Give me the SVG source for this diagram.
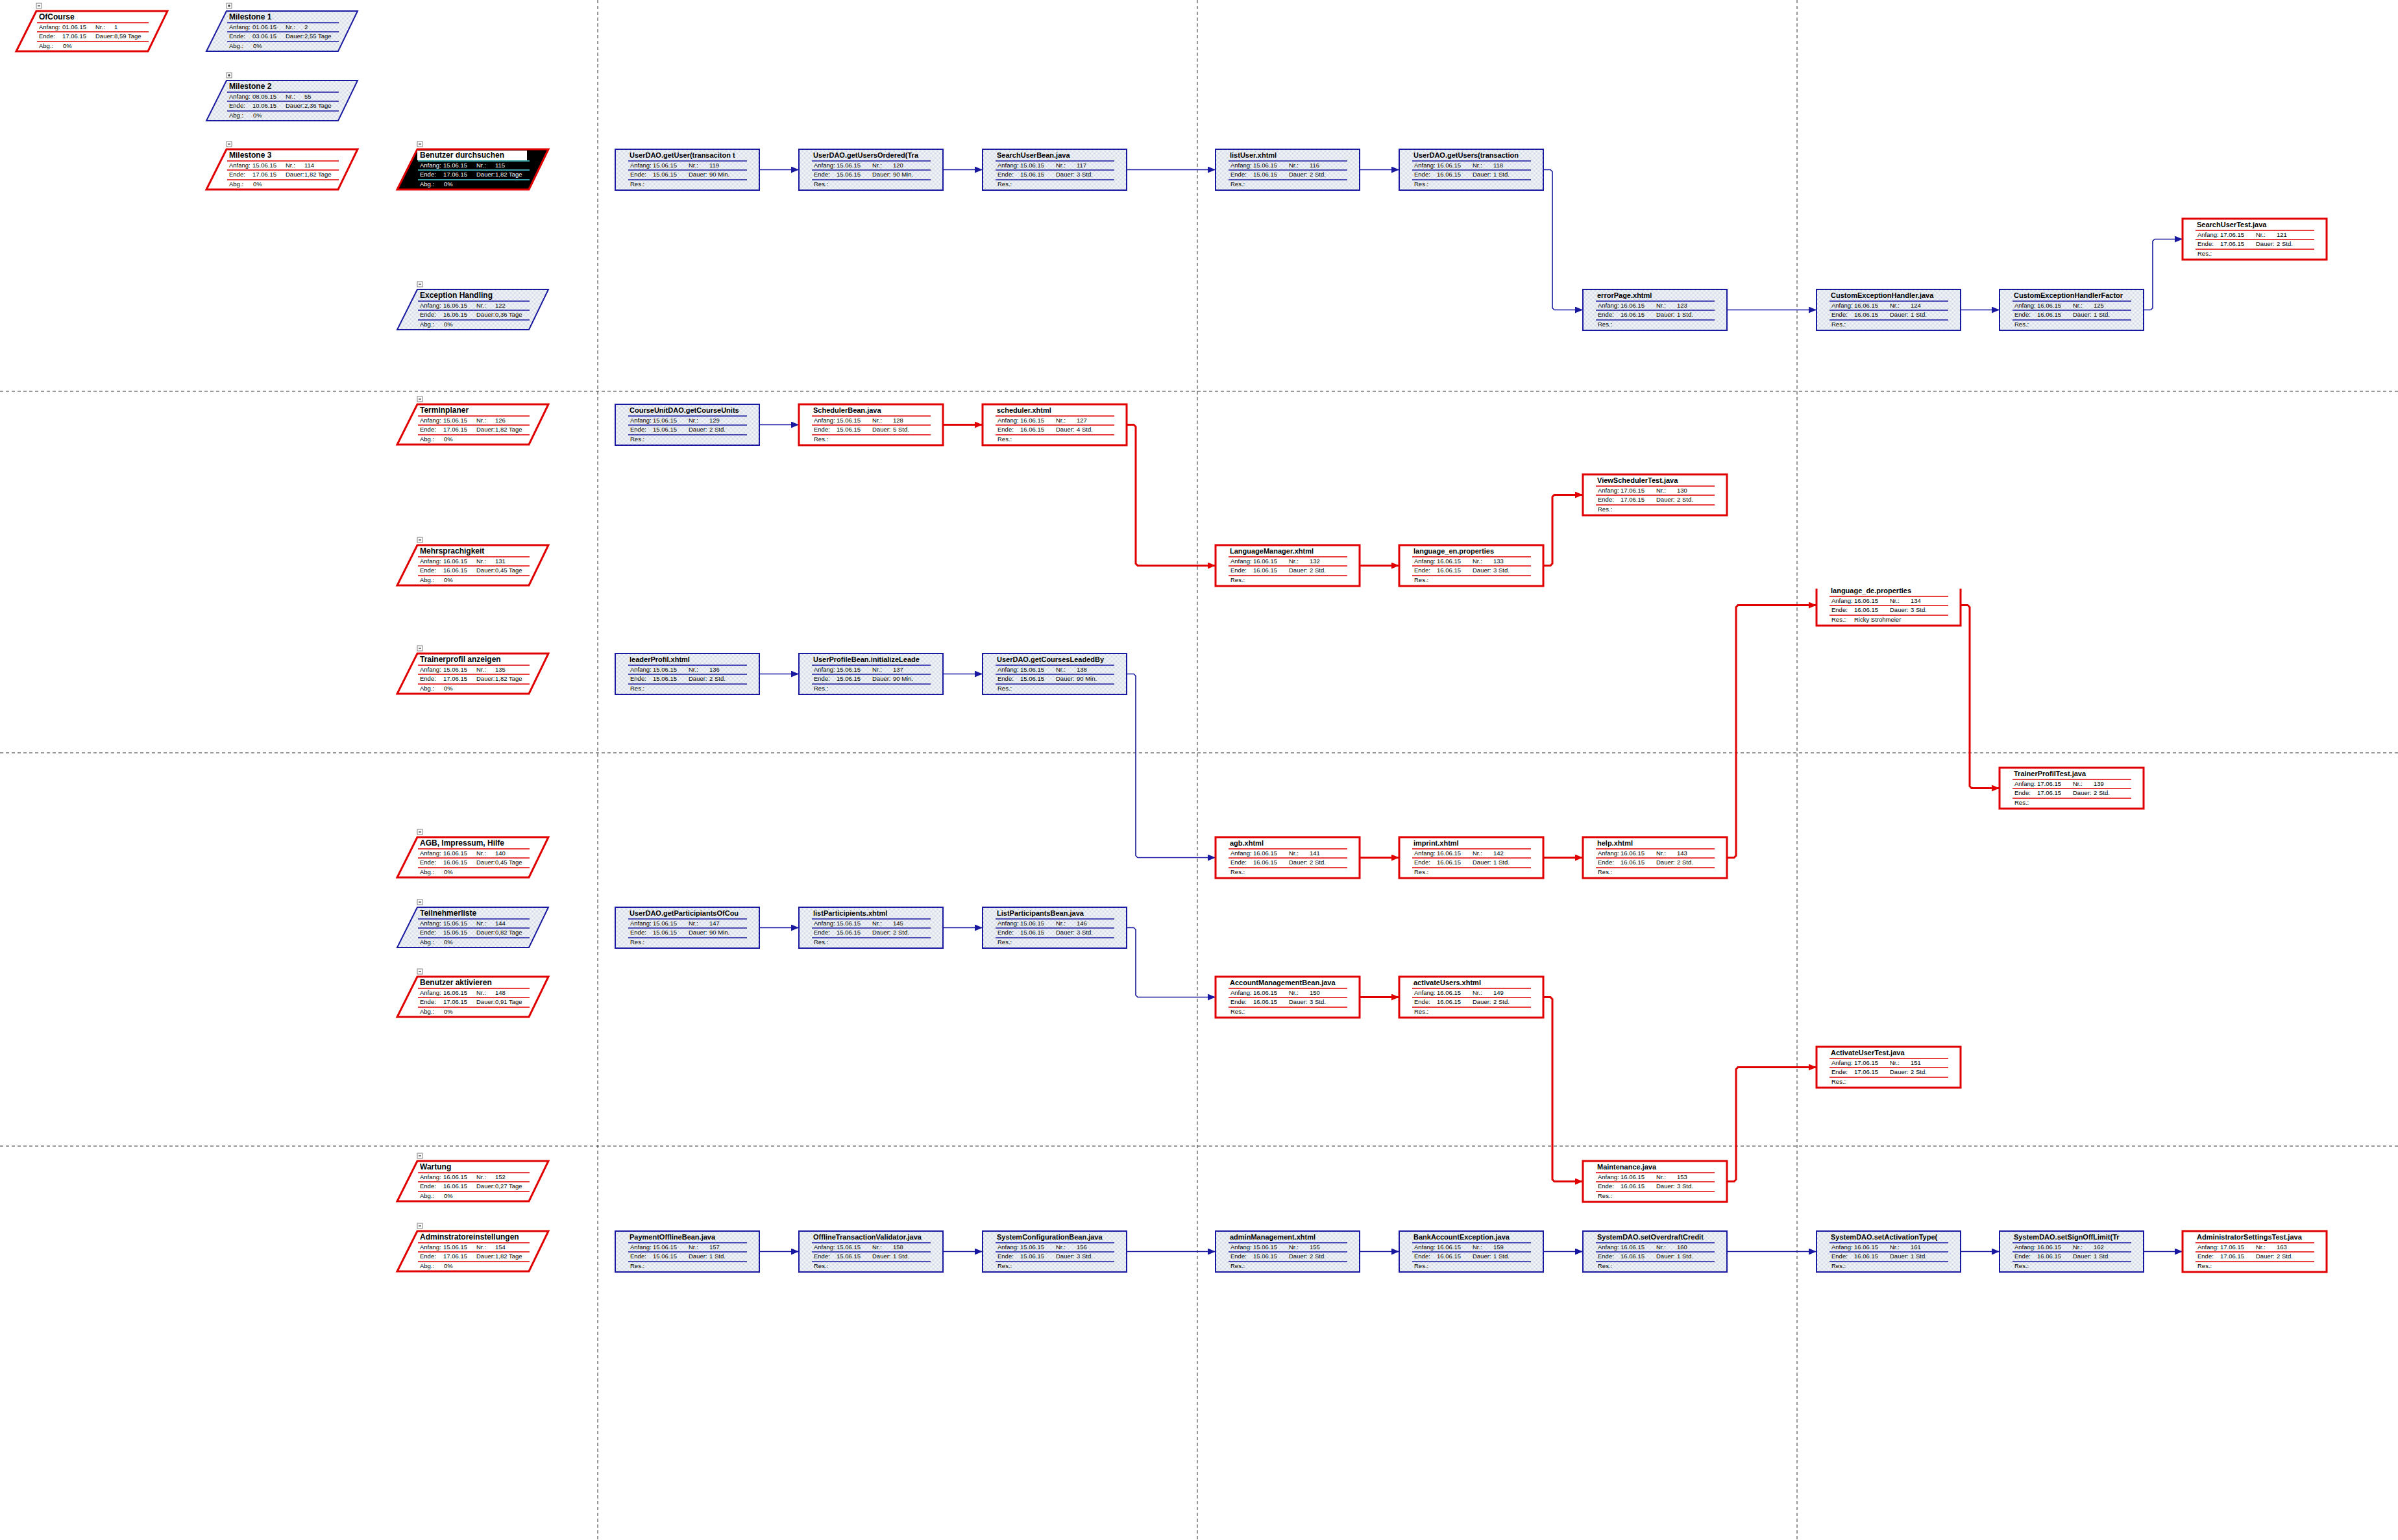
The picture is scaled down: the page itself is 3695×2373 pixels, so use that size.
<svg xmlns="http://www.w3.org/2000/svg" width="3695" height="2373" viewBox="0 0 3695 2373">
<style>
.tt{font:bold 11px "Liberation Sans",Arial,sans-serif;fill:#000}
.st{font:bold 12px "Liberation Sans",Arial,sans-serif;fill:#000}
.b{font:9.5px "Liberation Sans",Arial,sans-serif;fill:#000}
.bn{fill:url(#dt);stroke:#1818A0;stroke-width:2}
.rn{fill:#fff;stroke:#E00000;stroke-width:3}
.bl{stroke:#1818A0;stroke-width:1.5;fill:none}
.rl{stroke:#E00000;stroke-width:1.5;fill:none}
.cl{stroke:#48D8E0;stroke-width:1.5;fill:none}
.w{fill:#fff}
.ex{fill:#fff;stroke:#808080;stroke-width:1}
.exm{stroke:#000;stroke-width:1;fill:none}
.cb{fill:none;stroke:#1818A0;stroke-width:1.6;marker-end:url(#ab)}
.cr{fill:none;stroke:#E00000;stroke-width:3;marker-end:url(#ar)}
.dl{stroke:#333;stroke-width:1;stroke-dasharray:5 4;fill:none}
</style>
<defs>
<pattern id="dt" width="2" height="2" patternUnits="userSpaceOnUse"><rect width="2" height="2" fill="#FCFDFE"/><rect width="1" height="1" fill="#D2D9E6"/><rect x="1" y="1" width="1" height="1" fill="#D2D9E6"/></pattern>
<clipPath id="tc"><rect x="0" y="0" width="203" height="20"/></clipPath>
<marker id="ab" markerUnits="userSpaceOnUse" markerWidth="12" markerHeight="10" refX="12" refY="5" orient="auto"><path d="M0 0L12 5L0 10z" fill="#1818A0"/></marker>
<marker id="ar" markerUnits="userSpaceOnUse" markerWidth="12" markerHeight="10" refX="12" refY="5" orient="auto"><path d="M0 0L12 5L0 10z" fill="#E00000"/></marker>
</defs>
<rect width="3695" height="2373" fill="#fff"/>
<g id="grid">
<path class="dl" d="M921 0V2373M1845 0V2373M2769 0V2373M0 603H3695M0 1160H3695M0 1766H3695"/>
</g>
<g id="connectors">
<path class="cb" d="M1170 261.5H1231"/>
<path class="cb" d="M1453 261.5H1514"/>
<path class="cb" d="M1736 261.5H1873"/>
<path class="cb" d="M2095 261.5H2156"/>
<path class="cb" d="M2378 261.5H2389L2392 264.5V474.5L2395 477.5H2439"/>
<path class="cb" d="M2661 477.5H2799"/>
<path class="cb" d="M3021 477.5H3081"/>
<path class="cb" d="M3303 477.5H3314L3317 474.5V371.5L3320 368.5H3363"/>
<path class="cb" d="M1170 654.5H1231"/>
<path class="cr" d="M1453 654.5H1514"/>
<path class="cr" d="M1736 654.5H1747L1750 657.5V868.5L1753 871.5H1873"/>
<path class="cr" d="M2095 871.5H2156"/>
<path class="cr" d="M2378 871.5H2389L2392 868.5V765.5L2395 762.5H2439"/>
<path class="cr" d="M2661 1321.5H2672L2675 1318.5V935.5L2678 932.5H2799"/>
<path class="cr" d="M3021 932.5H3032L3035 935.5V1211.5L3038 1214.5H3081"/>
<path class="cb" d="M1170 1038.5H1231"/>
<path class="cb" d="M1453 1038.5H1514"/>
<path class="cb" d="M1736 1038.5H1747L1750 1041.5V1318.5L1753 1321.5H1873"/>
<path class="cr" d="M2095 1321.5H2156"/>
<path class="cr" d="M2378 1321.5H2439"/>
<path class="cb" d="M1170 1429.5H1231"/>
<path class="cb" d="M1453 1429.5H1514"/>
<path class="cb" d="M1736 1429.5H1747L1750 1432.5V1533.5L1753 1536.5H1873"/>
<path class="cr" d="M2095 1536.5H2156"/>
<path class="cr" d="M2378 1536.5H2389L2392 1539.5V1817.5L2395 1820.5H2439"/>
<path class="cr" d="M2661 1820.5H2672L2675 1817.5V1647.5L2678 1644.5H2799"/>
<path class="cb" d="M1170 1928.5H1231"/>
<path class="cb" d="M1453 1928.5H1514"/>
<path class="cb" d="M1736 1928.5H1873"/>
<path class="cb" d="M2095 1928.5H2156"/>
<path class="cb" d="M2378 1928.5H2439"/>
<path class="cb" d="M2661 1928.5H2799"/>
<path class="cb" d="M3021 1928.5H3081"/>
<path class="cb" d="M3303 1928.5H3363"/>
</g>
<g id="summaries">
<g id="s1" transform="translate(25,17)"><rect class="ex" x="31" y="-12" width="8" height="8"/><path class="exm" d="M33 -8H37"/><polygon class="rn" points="31,0 233,0 203,62 0,62"/><text class="st" x="35" y="13">OfCourse</text><path class="rl" d="M32 18H204M32 32H204M32 47H204"/><text class="b" y="28"><tspan x="35">Anfang:</tspan><tspan x="71">01.06.15</tspan><tspan x="122">Nr.:</tspan><tspan x="151">1</tspan></text><text class="b" y="42"><tspan x="35">Ende:</tspan><tspan x="71">17.06.15</tspan><tspan x="122">Dauer:</tspan><tspan x="151">8,59 Tage</tspan></text><text class="b" y="57"><tspan x="35">Abg.:</tspan><tspan x="72">0%</tspan></text></g>
<g id="s2" transform="translate(318,17)"><rect class="ex" x="31" y="-12" width="8" height="8"/><path class="exm" d="M33 -8H37M35 -10V-6"/><polygon class="bn" points="31,0 233,0 203,62 0,62"/><text class="st" x="35" y="13">Milestone 1</text><path class="bl" d="M32 18H204M32 32H204M32 47H204"/><text class="b" y="28"><tspan x="35">Anfang:</tspan><tspan x="71">01.06.15</tspan><tspan x="122">Nr.:</tspan><tspan x="151">2</tspan></text><text class="b" y="42"><tspan x="35">Ende:</tspan><tspan x="71">03.06.15</tspan><tspan x="122">Dauer:</tspan><tspan x="151">2,55 Tage</tspan></text><text class="b" y="57"><tspan x="35">Abg.:</tspan><tspan x="72">0%</tspan></text></g>
<g id="s55" transform="translate(318,124)"><rect class="ex" x="31" y="-12" width="8" height="8"/><path class="exm" d="M33 -8H37M35 -10V-6"/><polygon class="bn" points="31,0 233,0 203,62 0,62"/><text class="st" x="35" y="13">Milestone 2</text><path class="bl" d="M32 18H204M32 32H204M32 47H204"/><text class="b" y="28"><tspan x="35">Anfang:</tspan><tspan x="71">08.06.15</tspan><tspan x="122">Nr.:</tspan><tspan x="151">55</tspan></text><text class="b" y="42"><tspan x="35">Ende:</tspan><tspan x="71">10.06.15</tspan><tspan x="122">Dauer:</tspan><tspan x="151">2,36 Tage</tspan></text><text class="b" y="57"><tspan x="35">Abg.:</tspan><tspan x="72">0%</tspan></text></g>
<g id="s114" transform="translate(318,230)"><rect class="ex" x="31" y="-12" width="8" height="8"/><path class="exm" d="M33 -8H37"/><polygon class="rn" points="31,0 233,0 203,62 0,62"/><text class="st" x="35" y="13">Milestone 3</text><path class="rl" d="M32 18H204M32 32H204M32 47H204"/><text class="b" y="28"><tspan x="35">Anfang:</tspan><tspan x="71">15.06.15</tspan><tspan x="122">Nr.:</tspan><tspan x="151">114</tspan></text><text class="b" y="42"><tspan x="35">Ende:</tspan><tspan x="71">17.06.15</tspan><tspan x="122">Dauer:</tspan><tspan x="151">1,82 Tage</tspan></text><text class="b" y="57"><tspan x="35">Abg.:</tspan><tspan x="72">0%</tspan></text></g>
<g id="s115" transform="translate(612,230)"><rect class="ex" x="31" y="-12" width="8" height="8"/><path class="exm" d="M33 -8H37"/><polygon points="31,0 233,0 203,62 0,62" fill="#000" stroke="#E00000" stroke-width="3"/><rect x="31" y="2" width="169" height="15" fill="#fff"/><text class="st" x="35" y="13">Benutzer durchsuchen</text><path class="cl" d="M32 18H204M32 32H204M32 47H204"/><text class="b w" y="28"><tspan x="35">Anfang:</tspan><tspan x="71">15.06.15</tspan><tspan x="122">Nr.:</tspan><tspan x="151">115</tspan></text><text class="b w" y="42"><tspan x="35">Ende:</tspan><tspan x="71">17.06.15</tspan><tspan x="122">Dauer:</tspan><tspan x="151">1,82 Tage</tspan></text><text class="b w" y="57"><tspan x="35">Abg.:</tspan><tspan x="72">0%</tspan></text></g>
<g id="s122" transform="translate(612,446)"><rect class="ex" x="31" y="-12" width="8" height="8"/><path class="exm" d="M33 -8H37"/><polygon class="bn" points="31,0 233,0 203,62 0,62"/><text class="st" x="35" y="13">Exception Handling</text><path class="bl" d="M32 18H204M32 32H204M32 47H204"/><text class="b" y="28"><tspan x="35">Anfang:</tspan><tspan x="71">16.06.15</tspan><tspan x="122">Nr.:</tspan><tspan x="151">122</tspan></text><text class="b" y="42"><tspan x="35">Ende:</tspan><tspan x="71">16.06.15</tspan><tspan x="122">Dauer:</tspan><tspan x="151">0,36 Tage</tspan></text><text class="b" y="57"><tspan x="35">Abg.:</tspan><tspan x="72">0%</tspan></text></g>
<g id="s126" transform="translate(612,623)"><rect class="ex" x="31" y="-12" width="8" height="8"/><path class="exm" d="M33 -8H37"/><polygon class="rn" points="31,0 233,0 203,62 0,62"/><text class="st" x="35" y="13">Terminplaner</text><path class="rl" d="M32 18H204M32 32H204M32 47H204"/><text class="b" y="28"><tspan x="35">Anfang:</tspan><tspan x="71">15.06.15</tspan><tspan x="122">Nr.:</tspan><tspan x="151">126</tspan></text><text class="b" y="42"><tspan x="35">Ende:</tspan><tspan x="71">17.06.15</tspan><tspan x="122">Dauer:</tspan><tspan x="151">1,82 Tage</tspan></text><text class="b" y="57"><tspan x="35">Abg.:</tspan><tspan x="72">0%</tspan></text></g>
<g id="s131" transform="translate(612,840)"><rect class="ex" x="31" y="-12" width="8" height="8"/><path class="exm" d="M33 -8H37"/><polygon class="rn" points="31,0 233,0 203,62 0,62"/><text class="st" x="35" y="13">Mehrsprachigkeit</text><path class="rl" d="M32 18H204M32 32H204M32 47H204"/><text class="b" y="28"><tspan x="35">Anfang:</tspan><tspan x="71">16.06.15</tspan><tspan x="122">Nr.:</tspan><tspan x="151">131</tspan></text><text class="b" y="42"><tspan x="35">Ende:</tspan><tspan x="71">16.06.15</tspan><tspan x="122">Dauer:</tspan><tspan x="151">0,45 Tage</tspan></text><text class="b" y="57"><tspan x="35">Abg.:</tspan><tspan x="72">0%</tspan></text></g>
<g id="s135" transform="translate(612,1007)"><rect class="ex" x="31" y="-12" width="8" height="8"/><path class="exm" d="M33 -8H37"/><polygon class="rn" points="31,0 233,0 203,62 0,62"/><text class="st" x="35" y="13">Trainerprofil anzeigen</text><path class="rl" d="M32 18H204M32 32H204M32 47H204"/><text class="b" y="28"><tspan x="35">Anfang:</tspan><tspan x="71">15.06.15</tspan><tspan x="122">Nr.:</tspan><tspan x="151">135</tspan></text><text class="b" y="42"><tspan x="35">Ende:</tspan><tspan x="71">17.06.15</tspan><tspan x="122">Dauer:</tspan><tspan x="151">1,82 Tage</tspan></text><text class="b" y="57"><tspan x="35">Abg.:</tspan><tspan x="72">0%</tspan></text></g>
<g id="s140" transform="translate(612,1290)"><rect class="ex" x="31" y="-12" width="8" height="8"/><path class="exm" d="M33 -8H37"/><polygon class="rn" points="31,0 233,0 203,62 0,62"/><text class="st" x="35" y="13">AGB, Impressum, Hilfe</text><path class="rl" d="M32 18H204M32 32H204M32 47H204"/><text class="b" y="28"><tspan x="35">Anfang:</tspan><tspan x="71">16.06.15</tspan><tspan x="122">Nr.:</tspan><tspan x="151">140</tspan></text><text class="b" y="42"><tspan x="35">Ende:</tspan><tspan x="71">16.06.15</tspan><tspan x="122">Dauer:</tspan><tspan x="151">0,45 Tage</tspan></text><text class="b" y="57"><tspan x="35">Abg.:</tspan><tspan x="72">0%</tspan></text></g>
<g id="s144" transform="translate(612,1398)"><rect class="ex" x="31" y="-12" width="8" height="8"/><path class="exm" d="M33 -8H37"/><polygon class="bn" points="31,0 233,0 203,62 0,62"/><text class="st" x="35" y="13">Teilnehmerliste</text><path class="bl" d="M32 18H204M32 32H204M32 47H204"/><text class="b" y="28"><tspan x="35">Anfang:</tspan><tspan x="71">15.06.15</tspan><tspan x="122">Nr.:</tspan><tspan x="151">144</tspan></text><text class="b" y="42"><tspan x="35">Ende:</tspan><tspan x="71">15.06.15</tspan><tspan x="122">Dauer:</tspan><tspan x="151">0,82 Tage</tspan></text><text class="b" y="57"><tspan x="35">Abg.:</tspan><tspan x="72">0%</tspan></text></g>
<g id="s148" transform="translate(612,1505)"><rect class="ex" x="31" y="-12" width="8" height="8"/><path class="exm" d="M33 -8H37"/><polygon class="rn" points="31,0 233,0 203,62 0,62"/><text class="st" x="35" y="13">Benutzer aktivieren</text><path class="rl" d="M32 18H204M32 32H204M32 47H204"/><text class="b" y="28"><tspan x="35">Anfang:</tspan><tspan x="71">16.06.15</tspan><tspan x="122">Nr.:</tspan><tspan x="151">148</tspan></text><text class="b" y="42"><tspan x="35">Ende:</tspan><tspan x="71">17.06.15</tspan><tspan x="122">Dauer:</tspan><tspan x="151">0,91 Tage</tspan></text><text class="b" y="57"><tspan x="35">Abg.:</tspan><tspan x="72">0%</tspan></text></g>
<g id="s152" transform="translate(612,1789)"><rect class="ex" x="31" y="-12" width="8" height="8"/><path class="exm" d="M33 -8H37"/><polygon class="rn" points="31,0 233,0 203,62 0,62"/><text class="st" x="35" y="13">Wartung</text><path class="rl" d="M32 18H204M32 32H204M32 47H204"/><text class="b" y="28"><tspan x="35">Anfang:</tspan><tspan x="71">16.06.15</tspan><tspan x="122">Nr.:</tspan><tspan x="151">152</tspan></text><text class="b" y="42"><tspan x="35">Ende:</tspan><tspan x="71">16.06.15</tspan><tspan x="122">Dauer:</tspan><tspan x="151">0,27 Tage</tspan></text><text class="b" y="57"><tspan x="35">Abg.:</tspan><tspan x="72">0%</tspan></text></g>
<g id="s154" transform="translate(612,1897)"><rect class="ex" x="31" y="-12" width="8" height="8"/><path class="exm" d="M33 -8H37"/><polygon class="rn" points="31,0 233,0 203,62 0,62"/><text class="st" x="35" y="13">Adminstratoreinstellungen</text><path class="rl" d="M32 18H204M32 32H204M32 47H204"/><text class="b" y="28"><tspan x="35">Anfang:</tspan><tspan x="71">15.06.15</tspan><tspan x="122">Nr.:</tspan><tspan x="151">154</tspan></text><text class="b" y="42"><tspan x="35">Ende:</tspan><tspan x="71">17.06.15</tspan><tspan x="122">Dauer:</tspan><tspan x="151">1,82 Tage</tspan></text><text class="b" y="57"><tspan x="35">Abg.:</tspan><tspan x="72">0%</tspan></text></g>
</g>
<g id="tasks">
<g id="t119" transform="translate(948,230)"><rect class="bn" width="222" height="63"/><text class="tt" x="22" y="13" clip-path="url(#tc)">UserDAO.getUser(transaciton t</text><path class="bl" d="M20 18H203M20 32H203M20 47H203"/><text class="b" y="28"><tspan x="23">Anfang:</tspan><tspan x="58">15.06.15</tspan><tspan x="113">Nr.:</tspan><tspan x="145">119</tspan></text><text class="b" y="42"><tspan x="23">Ende:</tspan><tspan x="58">15.06.15</tspan><tspan x="113">Dauer:</tspan><tspan x="145">90 Min.</tspan></text><text class="b" x="23" y="57">Res.:</text></g>
<g id="t120" transform="translate(1231,230)"><rect class="bn" width="222" height="63"/><text class="tt" x="22" y="13" clip-path="url(#tc)">UserDAO.getUsersOrdered(Tra</text><path class="bl" d="M20 18H203M20 32H203M20 47H203"/><text class="b" y="28"><tspan x="23">Anfang:</tspan><tspan x="58">15.06.15</tspan><tspan x="113">Nr.:</tspan><tspan x="145">120</tspan></text><text class="b" y="42"><tspan x="23">Ende:</tspan><tspan x="58">15.06.15</tspan><tspan x="113">Dauer:</tspan><tspan x="145">90 Min.</tspan></text><text class="b" x="23" y="57">Res.:</text></g>
<g id="t117" transform="translate(1514,230)"><rect class="bn" width="222" height="63"/><text class="tt" x="22" y="13" clip-path="url(#tc)">SearchUserBean.java</text><path class="bl" d="M20 18H203M20 32H203M20 47H203"/><text class="b" y="28"><tspan x="23">Anfang:</tspan><tspan x="58">15.06.15</tspan><tspan x="113">Nr.:</tspan><tspan x="145">117</tspan></text><text class="b" y="42"><tspan x="23">Ende:</tspan><tspan x="58">15.06.15</tspan><tspan x="113">Dauer:</tspan><tspan x="145">3 Std.</tspan></text><text class="b" x="23" y="57">Res.:</text></g>
<g id="t116" transform="translate(1873,230)"><rect class="bn" width="222" height="63"/><text class="tt" x="22" y="13" clip-path="url(#tc)">listUser.xhtml</text><path class="bl" d="M20 18H203M20 32H203M20 47H203"/><text class="b" y="28"><tspan x="23">Anfang:</tspan><tspan x="58">15.06.15</tspan><tspan x="113">Nr.:</tspan><tspan x="145">116</tspan></text><text class="b" y="42"><tspan x="23">Ende:</tspan><tspan x="58">15.06.15</tspan><tspan x="113">Dauer:</tspan><tspan x="145">2 Std.</tspan></text><text class="b" x="23" y="57">Res.:</text></g>
<g id="t118" transform="translate(2156,230)"><rect class="bn" width="222" height="63"/><text class="tt" x="22" y="13" clip-path="url(#tc)">UserDAO.getUsers(transaction</text><path class="bl" d="M20 18H203M20 32H203M20 47H203"/><text class="b" y="28"><tspan x="23">Anfang:</tspan><tspan x="58">16.06.15</tspan><tspan x="113">Nr.:</tspan><tspan x="145">118</tspan></text><text class="b" y="42"><tspan x="23">Ende:</tspan><tspan x="58">16.06.15</tspan><tspan x="113">Dauer:</tspan><tspan x="145">1 Std.</tspan></text><text class="b" x="23" y="57">Res.:</text></g>
<g id="t123" transform="translate(2439,446)"><rect class="bn" width="222" height="63"/><text class="tt" x="22" y="13" clip-path="url(#tc)">errorPage.xhtml</text><path class="bl" d="M20 18H203M20 32H203M20 47H203"/><text class="b" y="28"><tspan x="23">Anfang:</tspan><tspan x="58">16.06.15</tspan><tspan x="113">Nr.:</tspan><tspan x="145">123</tspan></text><text class="b" y="42"><tspan x="23">Ende:</tspan><tspan x="58">16.06.15</tspan><tspan x="113">Dauer:</tspan><tspan x="145">1 Std.</tspan></text><text class="b" x="23" y="57">Res.:</text></g>
<g id="t124" transform="translate(2799,446)"><rect class="bn" width="222" height="63"/><text class="tt" x="22" y="13" clip-path="url(#tc)">CustomExceptionHandler.java</text><path class="bl" d="M20 18H203M20 32H203M20 47H203"/><text class="b" y="28"><tspan x="23">Anfang:</tspan><tspan x="58">16.06.15</tspan><tspan x="113">Nr.:</tspan><tspan x="145">124</tspan></text><text class="b" y="42"><tspan x="23">Ende:</tspan><tspan x="58">16.06.15</tspan><tspan x="113">Dauer:</tspan><tspan x="145">1 Std.</tspan></text><text class="b" x="23" y="57">Res.:</text></g>
<g id="t125" transform="translate(3081,446)"><rect class="bn" width="222" height="63"/><text class="tt" x="22" y="13" clip-path="url(#tc)">CustomExceptionHandlerFactor</text><path class="bl" d="M20 18H203M20 32H203M20 47H203"/><text class="b" y="28"><tspan x="23">Anfang:</tspan><tspan x="58">16.06.15</tspan><tspan x="113">Nr.:</tspan><tspan x="145">125</tspan></text><text class="b" y="42"><tspan x="23">Ende:</tspan><tspan x="58">16.06.15</tspan><tspan x="113">Dauer:</tspan><tspan x="145">1 Std.</tspan></text><text class="b" x="23" y="57">Res.:</text></g>
<g id="t121" transform="translate(3363,337)"><rect class="rn" width="222" height="63"/><text class="tt" x="22" y="13" clip-path="url(#tc)">SearchUserTest.java</text><path class="rl" d="M20 18H203M20 32H203M20 47H203"/><text class="b" y="28"><tspan x="23">Anfang:</tspan><tspan x="58">17.06.15</tspan><tspan x="113">Nr.:</tspan><tspan x="145">121</tspan></text><text class="b" y="42"><tspan x="23">Ende:</tspan><tspan x="58">17.06.15</tspan><tspan x="113">Dauer:</tspan><tspan x="145">2 Std.</tspan></text><text class="b" x="23" y="57">Res.:</text></g>
<g id="t129" transform="translate(948,623)"><rect class="bn" width="222" height="63"/><text class="tt" x="22" y="13" clip-path="url(#tc)">CourseUnitDAO.getCourseUnits</text><path class="bl" d="M20 18H203M20 32H203M20 47H203"/><text class="b" y="28"><tspan x="23">Anfang:</tspan><tspan x="58">15.06.15</tspan><tspan x="113">Nr.:</tspan><tspan x="145">129</tspan></text><text class="b" y="42"><tspan x="23">Ende:</tspan><tspan x="58">15.06.15</tspan><tspan x="113">Dauer:</tspan><tspan x="145">2 Std.</tspan></text><text class="b" x="23" y="57">Res.:</text></g>
<g id="t128" transform="translate(1231,623)"><rect class="rn" width="222" height="63"/><text class="tt" x="22" y="13" clip-path="url(#tc)">SchedulerBean.java</text><path class="rl" d="M20 18H203M20 32H203M20 47H203"/><text class="b" y="28"><tspan x="23">Anfang:</tspan><tspan x="58">15.06.15</tspan><tspan x="113">Nr.:</tspan><tspan x="145">128</tspan></text><text class="b" y="42"><tspan x="23">Ende:</tspan><tspan x="58">15.06.15</tspan><tspan x="113">Dauer:</tspan><tspan x="145">5 Std.</tspan></text><text class="b" x="23" y="57">Res.:</text></g>
<g id="t127" transform="translate(1514,623)"><rect class="rn" width="222" height="63"/><text class="tt" x="22" y="13" clip-path="url(#tc)">scheduler.xhtml</text><path class="rl" d="M20 18H203M20 32H203M20 47H203"/><text class="b" y="28"><tspan x="23">Anfang:</tspan><tspan x="58">16.06.15</tspan><tspan x="113">Nr.:</tspan><tspan x="145">127</tspan></text><text class="b" y="42"><tspan x="23">Ende:</tspan><tspan x="58">16.06.15</tspan><tspan x="113">Dauer:</tspan><tspan x="145">4 Std.</tspan></text><text class="b" x="23" y="57">Res.:</text></g>
<g id="t130" transform="translate(2439,731)"><rect class="rn" width="222" height="63"/><text class="tt" x="22" y="13" clip-path="url(#tc)">ViewSchedulerTest.java</text><path class="rl" d="M20 18H203M20 32H203M20 47H203"/><text class="b" y="28"><tspan x="23">Anfang:</tspan><tspan x="58">17.06.15</tspan><tspan x="113">Nr.:</tspan><tspan x="145">130</tspan></text><text class="b" y="42"><tspan x="23">Ende:</tspan><tspan x="58">17.06.15</tspan><tspan x="113">Dauer:</tspan><tspan x="145">2 Std.</tspan></text><text class="b" x="23" y="57">Res.:</text></g>
<g id="t132" transform="translate(1873,840)"><rect class="rn" width="222" height="63"/><text class="tt" x="22" y="13" clip-path="url(#tc)">LanguageManager.xhtml</text><path class="rl" d="M20 18H203M20 32H203M20 47H203"/><text class="b" y="28"><tspan x="23">Anfang:</tspan><tspan x="58">16.06.15</tspan><tspan x="113">Nr.:</tspan><tspan x="145">132</tspan></text><text class="b" y="42"><tspan x="23">Ende:</tspan><tspan x="58">16.06.15</tspan><tspan x="113">Dauer:</tspan><tspan x="145">2 Std.</tspan></text><text class="b" x="23" y="57">Res.:</text></g>
<g id="t133" transform="translate(2156,840)"><rect class="rn" width="222" height="63"/><text class="tt" x="22" y="13" clip-path="url(#tc)">language_en.properties</text><path class="rl" d="M20 18H203M20 32H203M20 47H203"/><text class="b" y="28"><tspan x="23">Anfang:</tspan><tspan x="58">16.06.15</tspan><tspan x="113">Nr.:</tspan><tspan x="145">133</tspan></text><text class="b" y="42"><tspan x="23">Ende:</tspan><tspan x="58">16.06.15</tspan><tspan x="113">Dauer:</tspan><tspan x="145">3 Std.</tspan></text><text class="b" x="23" y="57">Res.:</text></g>
<g id="t134" transform="translate(2799,901)"><rect class="rn" width="222" height="63"/><rect x="-3" y="-3" width="228" height="9" fill="#fff"/><text class="tt" x="22" y="13" clip-path="url(#tc)">language_de.properties</text><path class="rl" d="M20 18H203M20 32H203M20 47H203"/><text class="b" y="28"><tspan x="23">Anfang:</tspan><tspan x="58">16.06.15</tspan><tspan x="113">Nr.:</tspan><tspan x="145">134</tspan></text><text class="b" y="42"><tspan x="23">Ende:</tspan><tspan x="58">16.06.15</tspan><tspan x="113">Dauer:</tspan><tspan x="145">3 Std.</tspan></text><text class="b" y="57"><tspan x="23">Res.:</tspan><tspan x="58">Ricky Strohmeier</tspan></text></g>
<g id="t136" transform="translate(948,1007)"><rect class="bn" width="222" height="63"/><text class="tt" x="22" y="13" clip-path="url(#tc)">leaderProfil.xhtml</text><path class="bl" d="M20 18H203M20 32H203M20 47H203"/><text class="b" y="28"><tspan x="23">Anfang:</tspan><tspan x="58">15.06.15</tspan><tspan x="113">Nr.:</tspan><tspan x="145">136</tspan></text><text class="b" y="42"><tspan x="23">Ende:</tspan><tspan x="58">15.06.15</tspan><tspan x="113">Dauer:</tspan><tspan x="145">2 Std.</tspan></text><text class="b" x="23" y="57">Res.:</text></g>
<g id="t137" transform="translate(1231,1007)"><rect class="bn" width="222" height="63"/><text class="tt" x="22" y="13" clip-path="url(#tc)">UserProfileBean.initializeLeade</text><path class="bl" d="M20 18H203M20 32H203M20 47H203"/><text class="b" y="28"><tspan x="23">Anfang:</tspan><tspan x="58">15.06.15</tspan><tspan x="113">Nr.:</tspan><tspan x="145">137</tspan></text><text class="b" y="42"><tspan x="23">Ende:</tspan><tspan x="58">15.06.15</tspan><tspan x="113">Dauer:</tspan><tspan x="145">90 Min.</tspan></text><text class="b" x="23" y="57">Res.:</text></g>
<g id="t138" transform="translate(1514,1007)"><rect class="bn" width="222" height="63"/><text class="tt" x="22" y="13" clip-path="url(#tc)">UserDAO.getCoursesLeadedBy</text><path class="bl" d="M20 18H203M20 32H203M20 47H203"/><text class="b" y="28"><tspan x="23">Anfang:</tspan><tspan x="58">15.06.15</tspan><tspan x="113">Nr.:</tspan><tspan x="145">138</tspan></text><text class="b" y="42"><tspan x="23">Ende:</tspan><tspan x="58">15.06.15</tspan><tspan x="113">Dauer:</tspan><tspan x="145">90 Min.</tspan></text><text class="b" x="23" y="57">Res.:</text></g>
<g id="t139" transform="translate(3081,1183)"><rect class="rn" width="222" height="63"/><text class="tt" x="22" y="13" clip-path="url(#tc)">TrainerProfilTest.java</text><path class="rl" d="M20 18H203M20 32H203M20 47H203"/><text class="b" y="28"><tspan x="23">Anfang:</tspan><tspan x="58">17.06.15</tspan><tspan x="113">Nr.:</tspan><tspan x="145">139</tspan></text><text class="b" y="42"><tspan x="23">Ende:</tspan><tspan x="58">17.06.15</tspan><tspan x="113">Dauer:</tspan><tspan x="145">2 Std.</tspan></text><text class="b" x="23" y="57">Res.:</text></g>
<g id="t141" transform="translate(1873,1290)"><rect class="rn" width="222" height="63"/><text class="tt" x="22" y="13" clip-path="url(#tc)">agb.xhtml</text><path class="rl" d="M20 18H203M20 32H203M20 47H203"/><text class="b" y="28"><tspan x="23">Anfang:</tspan><tspan x="58">16.06.15</tspan><tspan x="113">Nr.:</tspan><tspan x="145">141</tspan></text><text class="b" y="42"><tspan x="23">Ende:</tspan><tspan x="58">16.06.15</tspan><tspan x="113">Dauer:</tspan><tspan x="145">2 Std.</tspan></text><text class="b" x="23" y="57">Res.:</text></g>
<g id="t142" transform="translate(2156,1290)"><rect class="rn" width="222" height="63"/><text class="tt" x="22" y="13" clip-path="url(#tc)">imprint.xhtml</text><path class="rl" d="M20 18H203M20 32H203M20 47H203"/><text class="b" y="28"><tspan x="23">Anfang:</tspan><tspan x="58">16.06.15</tspan><tspan x="113">Nr.:</tspan><tspan x="145">142</tspan></text><text class="b" y="42"><tspan x="23">Ende:</tspan><tspan x="58">16.06.15</tspan><tspan x="113">Dauer:</tspan><tspan x="145">1 Std.</tspan></text><text class="b" x="23" y="57">Res.:</text></g>
<g id="t143" transform="translate(2439,1290)"><rect class="rn" width="222" height="63"/><text class="tt" x="22" y="13" clip-path="url(#tc)">help.xhtml</text><path class="rl" d="M20 18H203M20 32H203M20 47H203"/><text class="b" y="28"><tspan x="23">Anfang:</tspan><tspan x="58">16.06.15</tspan><tspan x="113">Nr.:</tspan><tspan x="145">143</tspan></text><text class="b" y="42"><tspan x="23">Ende:</tspan><tspan x="58">16.06.15</tspan><tspan x="113">Dauer:</tspan><tspan x="145">2 Std.</tspan></text><text class="b" x="23" y="57">Res.:</text></g>
<g id="t147" transform="translate(948,1398)"><rect class="bn" width="222" height="63"/><text class="tt" x="22" y="13" clip-path="url(#tc)">UserDAO.getParticipiantsOfCou</text><path class="bl" d="M20 18H203M20 32H203M20 47H203"/><text class="b" y="28"><tspan x="23">Anfang:</tspan><tspan x="58">15.06.15</tspan><tspan x="113">Nr.:</tspan><tspan x="145">147</tspan></text><text class="b" y="42"><tspan x="23">Ende:</tspan><tspan x="58">15.06.15</tspan><tspan x="113">Dauer:</tspan><tspan x="145">90 Min.</tspan></text><text class="b" x="23" y="57">Res.:</text></g>
<g id="t145" transform="translate(1231,1398)"><rect class="bn" width="222" height="63"/><text class="tt" x="22" y="13" clip-path="url(#tc)">listParticipients.xhtml</text><path class="bl" d="M20 18H203M20 32H203M20 47H203"/><text class="b" y="28"><tspan x="23">Anfang:</tspan><tspan x="58">15.06.15</tspan><tspan x="113">Nr.:</tspan><tspan x="145">145</tspan></text><text class="b" y="42"><tspan x="23">Ende:</tspan><tspan x="58">15.06.15</tspan><tspan x="113">Dauer:</tspan><tspan x="145">2 Std.</tspan></text><text class="b" x="23" y="57">Res.:</text></g>
<g id="t146" transform="translate(1514,1398)"><rect class="bn" width="222" height="63"/><text class="tt" x="22" y="13" clip-path="url(#tc)">ListParticipantsBean.java</text><path class="bl" d="M20 18H203M20 32H203M20 47H203"/><text class="b" y="28"><tspan x="23">Anfang:</tspan><tspan x="58">15.06.15</tspan><tspan x="113">Nr.:</tspan><tspan x="145">146</tspan></text><text class="b" y="42"><tspan x="23">Ende:</tspan><tspan x="58">15.06.15</tspan><tspan x="113">Dauer:</tspan><tspan x="145">3 Std.</tspan></text><text class="b" x="23" y="57">Res.:</text></g>
<g id="t150" transform="translate(1873,1505)"><rect class="rn" width="222" height="63"/><text class="tt" x="22" y="13" clip-path="url(#tc)">AccountManagementBean.java</text><path class="rl" d="M20 18H203M20 32H203M20 47H203"/><text class="b" y="28"><tspan x="23">Anfang:</tspan><tspan x="58">16.06.15</tspan><tspan x="113">Nr.:</tspan><tspan x="145">150</tspan></text><text class="b" y="42"><tspan x="23">Ende:</tspan><tspan x="58">16.06.15</tspan><tspan x="113">Dauer:</tspan><tspan x="145">3 Std.</tspan></text><text class="b" x="23" y="57">Res.:</text></g>
<g id="t149" transform="translate(2156,1505)"><rect class="rn" width="222" height="63"/><text class="tt" x="22" y="13" clip-path="url(#tc)">activateUsers.xhtml</text><path class="rl" d="M20 18H203M20 32H203M20 47H203"/><text class="b" y="28"><tspan x="23">Anfang:</tspan><tspan x="58">16.06.15</tspan><tspan x="113">Nr.:</tspan><tspan x="145">149</tspan></text><text class="b" y="42"><tspan x="23">Ende:</tspan><tspan x="58">16.06.15</tspan><tspan x="113">Dauer:</tspan><tspan x="145">2 Std.</tspan></text><text class="b" x="23" y="57">Res.:</text></g>
<g id="t151" transform="translate(2799,1613)"><rect class="rn" width="222" height="63"/><text class="tt" x="22" y="13" clip-path="url(#tc)">ActivateUserTest.java</text><path class="rl" d="M20 18H203M20 32H203M20 47H203"/><text class="b" y="28"><tspan x="23">Anfang:</tspan><tspan x="58">17.06.15</tspan><tspan x="113">Nr.:</tspan><tspan x="145">151</tspan></text><text class="b" y="42"><tspan x="23">Ende:</tspan><tspan x="58">17.06.15</tspan><tspan x="113">Dauer:</tspan><tspan x="145">2 Std.</tspan></text><text class="b" x="23" y="57">Res.:</text></g>
<g id="t153" transform="translate(2439,1789)"><rect class="rn" width="222" height="63"/><text class="tt" x="22" y="13" clip-path="url(#tc)">Maintenance.java</text><path class="rl" d="M20 18H203M20 32H203M20 47H203"/><text class="b" y="28"><tspan x="23">Anfang:</tspan><tspan x="58">16.06.15</tspan><tspan x="113">Nr.:</tspan><tspan x="145">153</tspan></text><text class="b" y="42"><tspan x="23">Ende:</tspan><tspan x="58">16.06.15</tspan><tspan x="113">Dauer:</tspan><tspan x="145">3 Std.</tspan></text><text class="b" x="23" y="57">Res.:</text></g>
<g id="t157" transform="translate(948,1897)"><rect class="bn" width="222" height="63"/><text class="tt" x="22" y="13" clip-path="url(#tc)">PaymentOfflineBean.java</text><path class="bl" d="M20 18H203M20 32H203M20 47H203"/><text class="b" y="28"><tspan x="23">Anfang:</tspan><tspan x="58">15.06.15</tspan><tspan x="113">Nr.:</tspan><tspan x="145">157</tspan></text><text class="b" y="42"><tspan x="23">Ende:</tspan><tspan x="58">15.06.15</tspan><tspan x="113">Dauer:</tspan><tspan x="145">1 Std.</tspan></text><text class="b" x="23" y="57">Res.:</text></g>
<g id="t158" transform="translate(1231,1897)"><rect class="bn" width="222" height="63"/><text class="tt" x="22" y="13" clip-path="url(#tc)">OfflineTransactionValidator.java</text><path class="bl" d="M20 18H203M20 32H203M20 47H203"/><text class="b" y="28"><tspan x="23">Anfang:</tspan><tspan x="58">15.06.15</tspan><tspan x="113">Nr.:</tspan><tspan x="145">158</tspan></text><text class="b" y="42"><tspan x="23">Ende:</tspan><tspan x="58">15.06.15</tspan><tspan x="113">Dauer:</tspan><tspan x="145">1 Std.</tspan></text><text class="b" x="23" y="57">Res.:</text></g>
<g id="t156" transform="translate(1514,1897)"><rect class="bn" width="222" height="63"/><text class="tt" x="22" y="13" clip-path="url(#tc)">SystemConfigurationBean.java</text><path class="bl" d="M20 18H203M20 32H203M20 47H203"/><text class="b" y="28"><tspan x="23">Anfang:</tspan><tspan x="58">15.06.15</tspan><tspan x="113">Nr.:</tspan><tspan x="145">156</tspan></text><text class="b" y="42"><tspan x="23">Ende:</tspan><tspan x="58">15.06.15</tspan><tspan x="113">Dauer:</tspan><tspan x="145">3 Std.</tspan></text><text class="b" x="23" y="57">Res.:</text></g>
<g id="t155" transform="translate(1873,1897)"><rect class="bn" width="222" height="63"/><text class="tt" x="22" y="13" clip-path="url(#tc)">adminManagement.xhtml</text><path class="bl" d="M20 18H203M20 32H203M20 47H203"/><text class="b" y="28"><tspan x="23">Anfang:</tspan><tspan x="58">15.06.15</tspan><tspan x="113">Nr.:</tspan><tspan x="145">155</tspan></text><text class="b" y="42"><tspan x="23">Ende:</tspan><tspan x="58">15.06.15</tspan><tspan x="113">Dauer:</tspan><tspan x="145">2 Std.</tspan></text><text class="b" x="23" y="57">Res.:</text></g>
<g id="t159" transform="translate(2156,1897)"><rect class="bn" width="222" height="63"/><text class="tt" x="22" y="13" clip-path="url(#tc)">BankAccountException.java</text><path class="bl" d="M20 18H203M20 32H203M20 47H203"/><text class="b" y="28"><tspan x="23">Anfang:</tspan><tspan x="58">16.06.15</tspan><tspan x="113">Nr.:</tspan><tspan x="145">159</tspan></text><text class="b" y="42"><tspan x="23">Ende:</tspan><tspan x="58">16.06.15</tspan><tspan x="113">Dauer:</tspan><tspan x="145">1 Std.</tspan></text><text class="b" x="23" y="57">Res.:</text></g>
<g id="t160" transform="translate(2439,1897)"><rect class="bn" width="222" height="63"/><text class="tt" x="22" y="13" clip-path="url(#tc)">SystemDAO.setOverdraftCredit</text><path class="bl" d="M20 18H203M20 32H203M20 47H203"/><text class="b" y="28"><tspan x="23">Anfang:</tspan><tspan x="58">16.06.15</tspan><tspan x="113">Nr.:</tspan><tspan x="145">160</tspan></text><text class="b" y="42"><tspan x="23">Ende:</tspan><tspan x="58">16.06.15</tspan><tspan x="113">Dauer:</tspan><tspan x="145">1 Std.</tspan></text><text class="b" x="23" y="57">Res.:</text></g>
<g id="t161" transform="translate(2799,1897)"><rect class="bn" width="222" height="63"/><text class="tt" x="22" y="13" clip-path="url(#tc)">SystemDAO.setActivationType(</text><path class="bl" d="M20 18H203M20 32H203M20 47H203"/><text class="b" y="28"><tspan x="23">Anfang:</tspan><tspan x="58">16.06.15</tspan><tspan x="113">Nr.:</tspan><tspan x="145">161</tspan></text><text class="b" y="42"><tspan x="23">Ende:</tspan><tspan x="58">16.06.15</tspan><tspan x="113">Dauer:</tspan><tspan x="145">1 Std.</tspan></text><text class="b" x="23" y="57">Res.:</text></g>
<g id="t162" transform="translate(3081,1897)"><rect class="bn" width="222" height="63"/><text class="tt" x="22" y="13" clip-path="url(#tc)">SystemDAO.setSignOffLimit(Tr</text><path class="bl" d="M20 18H203M20 32H203M20 47H203"/><text class="b" y="28"><tspan x="23">Anfang:</tspan><tspan x="58">16.06.15</tspan><tspan x="113">Nr.:</tspan><tspan x="145">162</tspan></text><text class="b" y="42"><tspan x="23">Ende:</tspan><tspan x="58">16.06.15</tspan><tspan x="113">Dauer:</tspan><tspan x="145">1 Std.</tspan></text><text class="b" x="23" y="57">Res.:</text></g>
<g id="t163" transform="translate(3363,1897)"><rect class="rn" width="222" height="63"/><text class="tt" x="22" y="13" clip-path="url(#tc)">AdministratorSettingsTest.java</text><path class="rl" d="M20 18H203M20 32H203M20 47H203"/><text class="b" y="28"><tspan x="23">Anfang:</tspan><tspan x="58">17.06.15</tspan><tspan x="113">Nr.:</tspan><tspan x="145">163</tspan></text><text class="b" y="42"><tspan x="23">Ende:</tspan><tspan x="58">17.06.15</tspan><tspan x="113">Dauer:</tspan><tspan x="145">2 Std.</tspan></text><text class="b" x="23" y="57">Res.:</text></g>
</g>
</svg>
